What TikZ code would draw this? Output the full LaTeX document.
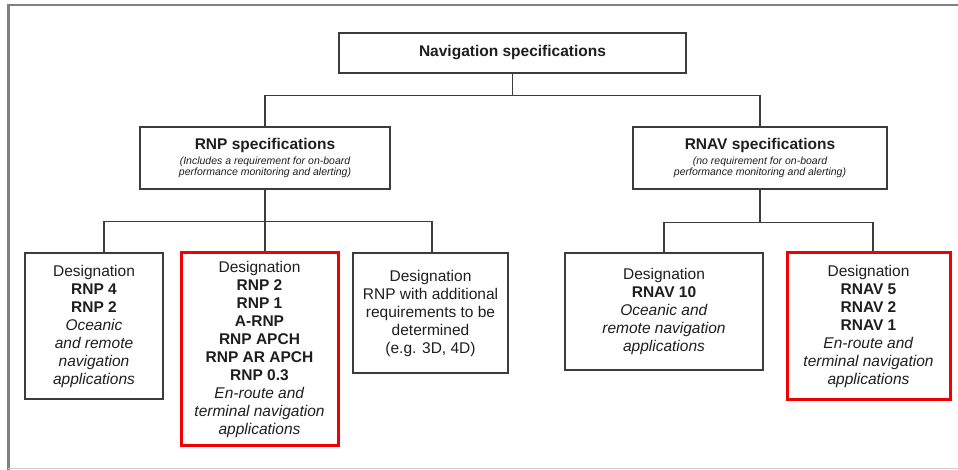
\documentclass[tikz,border=0pt]{standalone}
\usepackage{fontspec}
\setmainfont{Liberation Sans}
\definecolor{edge}{HTML}{3C3C3C}
\definecolor{ink}{HTML}{1E1E1E}
\definecolor{pick}{HTML}{F00000}
\newcommand{\sub}{\fontsize{10.5}{11}\selectfont\itshape}

\begin{document}
\begin{tikzpicture}[
  x=1pt, y=-1pt,
  spec/.style={rectangle, draw=edge, line width=1.3pt, align=center, text=ink,
    inner sep=2pt, font=\fontsize{15.5}{18}\selectfont},
  picked/.style={spec, draw=pick, line width=3pt},
  link/.style={draw=edge, line width=1.3pt}
]
\useasboundingbox (0,0) rectangle (958,470);

% page frame
\draw[gray, line width=2pt] (8,5) -- (958,5);
\draw[gray, line width=3pt] (8,4) -- (8,470);
\draw[black!20, line width=1pt] (8,468) -- (958,468);

% top level
\node[spec, minimum width=347, minimum height=40] (nav) at (512.5,53)
  {\textbf{Navigation specifications}};

\node[spec, minimum width=250, minimum height=62] (rnp) at (265,158)
  {\textbf{RNP specifications}\\[-3pt]
   {\sub (Includes a requirement for on-board}\\[-7pt]
   {\sub performance monitoring and alerting)}};
\node[spec, minimum width=254, minimum height=62] (rnav) at (760,158)
  {\textbf{RNAV specifications}\\[-3pt]
   {\sub (no requirement for on-board}\\[-7pt]
   {\sub performance monitoring and alerting)}};

% designations
\node[spec, minimum width=138, minimum height=146] (rnp4) at (94,326)
  {Designation\\ \textbf{RNP 4}\\ \textbf{RNP 2}\\ \textit{Oceanic}\\
   \textit{and remote}\\ \textit{navigation}\\ \textit{applications}};
\node[picked, minimum width=157, minimum height=192] (rnp2) at (259.5,349)
  {Designation\\ \textbf{RNP 2}\\ \textbf{RNP 1}\\ \textbf{A-RNP}\\
   \textbf{RNP APCH}\\ \textbf{RNP AR APCH}\\ \textbf{RNP 0.3}\\
   \textit{En-route and}\\ \textit{terminal navigation}\\ \textit{applications}};
\node[spec, minimum width=155, minimum height=120] (rnpx) at (430.5,313)
  {Designation\\ RNP with additional\\ requirements to be\\ determined\\
   (e.g. 3D, 4D)};
\node[spec, minimum width=198, minimum height=117] (rnav10) at (664,311.5)
  {Designation\\ \textbf{RNAV 10}\\ \textit{Oceanic and}\\
   \textit{remote navigation}\\ \textit{applications}};
\node[picked, minimum width=163, minimum height=146] (rnav5) at (868.5,326)
  {Designation\\ \textbf{RNAV 5}\\ \textbf{RNAV 2}\\ \textbf{RNAV 1}\\
   \textit{En-route and}\\ \textit{terminal navigation}\\ \textit{applications}};

% tree lines
\draw[link] (nav.south) -- ++(0,22) coordinate (split);
\draw[link] (rnp.north) |- (split) -| (rnav.north);

\draw[link] (rnp.south) -- (rnp.south |- rnp2.north);
\draw[link] ([xshift=10pt]rnp4.north) -- ++(0,-31) -| ([xshift=1.5pt]rnpx.north);

\draw[link] (rnav.south) -- ++(0,33) coordinate (rsplit);
\draw[link] (rnav10.north) |- (rsplit) -| ([xshift=4.5pt]rnav5.north);
\end{tikzpicture}
\end{document}
